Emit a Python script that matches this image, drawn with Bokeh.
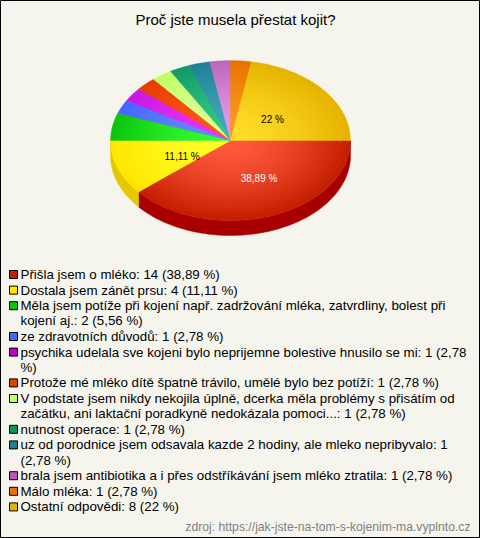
from bokeh.plotting import figure
from bokeh.models import Range1d
from bokeh.embed import file_html
from bokeh.resources import INLINE
from bokeh.core.properties import value
import math

# ---- data ----
title = "Proč jste musela přestat kojit?"
source_note = "zdroj: https://jak-jste-na-tom-s-kojenim-ma.vyplnto.cz"
counts = [14, 4, 2, 1, 1, 1, 1, 1, 1, 1, 1, 8]
percent_labels = ["38,89 %", "11,11 %", "", "", "", "", "", "", "", "", "", "22 %"]
legend_lines = [
    ["Přišla jsem o mléko: 14 (38,89 %)"],
    ["Dostala jsem zánět prsu: 4 (11,11 %)"],
    ["Měla jsem potíže při kojení např. zadržování mléka, zatvrdliny, bolest při", "kojení aj.: 2 (5,56 %)"],
    ["ze zdravotních důvodů: 1 (2,78 %)"],
    ["psychika udelala sve kojeni bylo neprijemne bolestive hnusilo se mi: 1 (2,78", "%)"],
    ["Protože mé mléko dítě špatně trávilo, umělé bylo bez potíží: 1 (2,78 %)"],
    ["V podstate jsem nikdy nekojila úplně, dcerka měla problémy s přisátím od", "začátku, ani laktační poradkyně nedokázala pomoci...: 1 (2,78 %)"],
    ["nutnost operace: 1 (2,78 %)"],
    ["uz od porodnice jsem odsavala kazde 2 hodiny, ale mleko nepribyvalo: 1", "(2,78 %)"],
    ["brala jsem antibiotika a i přes odstříkávání jsem mléko ztratila: 1 (2,78 %)"],
    ["Málo mléka: 1 (2,78 %)"],
    ["Ostatní odpovědi: 8 (22 %)"],
]

# ---- style ----
inner = ["#ff5a3c", "#ffff2a", "#33ff33", "#6a8cff", "#ee33ff", "#ff5a1a", "#dfff99",
         "#33cc88", "#44aabb", "#e89ae8", "#ff9922", "#ffdd2a"]
outer = ["#c41f00", "#ffe600", "#0dc40d", "#4466ff", "#c818e0", "#e63c00", "#bfff66",
         "#119966", "#1f7f99", "#bb66bb", "#e67300", "#e6b300"]
swatch = ["#c41f00", "#ffe600", "#0dc40d", "#4466ff", "#c000c8", "#e63c00", "#bfff66",
          "#0d9955", "#1f7f99", "#bb55bb", "#e67300", "#e6b300"]
side = ["#a80000", "#e6c800"]
BG = "#f5f5ee"
FONT = value("Liberation Sans")
CX, CY, RX, RY, DEPTH = 230, 140, 120, 80, 15
LAYERS = 26
ROW_STEP, WRAP_STEP = 15.6, 15.2

p = figure(width=480, height=538, output_backend="svg", toolbar_location=None,
           x_range=Range1d(0, 480), y_range=Range1d(538, 0),
           x_axis_type=None, y_axis_type=None, min_border=0,
           background_fill_color=BG, border_fill_color=BG, outline_line_color="black")
p.grid.visible = False
p.styles = {"position": "absolute", "left": "0", "top": "0"}


def mix(a, b, t):
    ca = [int(a[i:i + 2], 16) for i in (1, 3, 5)]
    cb = [int(b[i:i + 2], 16) for i in (1, 3, 5)]
    return "#%02x%02x%02x" % tuple(round(x + (y - x) * t) for x, y in zip(ca, cb))


total = sum(counts)
edges = [0.0]
for c in counts:
    edges.append(edges[-1] + 360.0 * c / total)


def arc(a0, a1, frac=1.0, dy=0.0):
    n = max(2, int((a1 - a0) / 2) + 2)
    angs = [math.radians(a0 + (a1 - a0) * i / (n - 1)) for i in range(n)]
    return ([CX + RX * frac * math.cos(a) for a in angs],
            [CY + dy + RY * frac * math.sin(a) for a in angs])


# side wall (only the part of the rim facing the viewer)
for i in range(2):
    x, y = arc(edges[i], min(edges[i + 1], 180.0))
    xb, yb = arc(edges[i], min(edges[i + 1], 180.0), dy=DEPTH)
    p.patch(x + xb[::-1], y + yb[::-1], fill_color=side[i], line_color=side[i], line_width=0.5)

# top face: concentric layers approximate the radial gradient
for layer in range(LAYERS):
    t = 1 - layer / LAYERS
    xs, ys, cols = [], [], []
    for i in range(len(counts)):
        x, y = arc(edges[i], edges[i + 1], t)
        xs.append([CX] + x)
        ys.append([CY] + y)
        cols.append(mix(inner[i], outer[i], t ** 1.6))
    p.patches(xs, ys, fill_color=cols, line_color=cols, line_width=0.3)

# value labels
nudges = {0: (8, 0), 1: (8, 2), 11: (-4, 5)}
for i, lab in enumerate(percent_labels):
    if not lab:
        continue
    mid = math.radians((edges[i] + edges[i + 1]) / 2)
    dx, dy = nudges[i]
    p.text([CX + RX * 0.5 * math.cos(mid) + dx], [CY + RY * 0.5 * math.sin(mid) + dy], text=[lab],
           text_font=FONT, text_font_size="10px", text_align="center", text_baseline="middle",
           text_color="#ffffff" if i == 0 else "#000000")

# title
p.text([235], [19], text=[title], text_font=FONT, text_font_size="15px", text_align="center",
       text_baseline="middle", text_color="#000000")

# legend
y = 274.0
for i, lines in enumerate(legend_lines):
    p.scatter([13], [y], marker="square", size=8, fill_color=swatch[i], line_color="#000000", line_width=1)
    for j, line in enumerate(lines):
        p.text([20], [y], text=[line], text_font=FONT, text_font_size="13.33px", text_align="left",
               text_baseline="middle", text_color="#000000")
        if j < len(lines) - 1:
            y += WRAP_STEP
    y += ROW_STEP

# source note
p.text([470], [526], text=[source_note], text_font=FONT, text_font_size="12.2px", text_align="right",
       text_baseline="middle", text_color="#808080")

open("out.html", "w").write(file_html(p, INLINE))
